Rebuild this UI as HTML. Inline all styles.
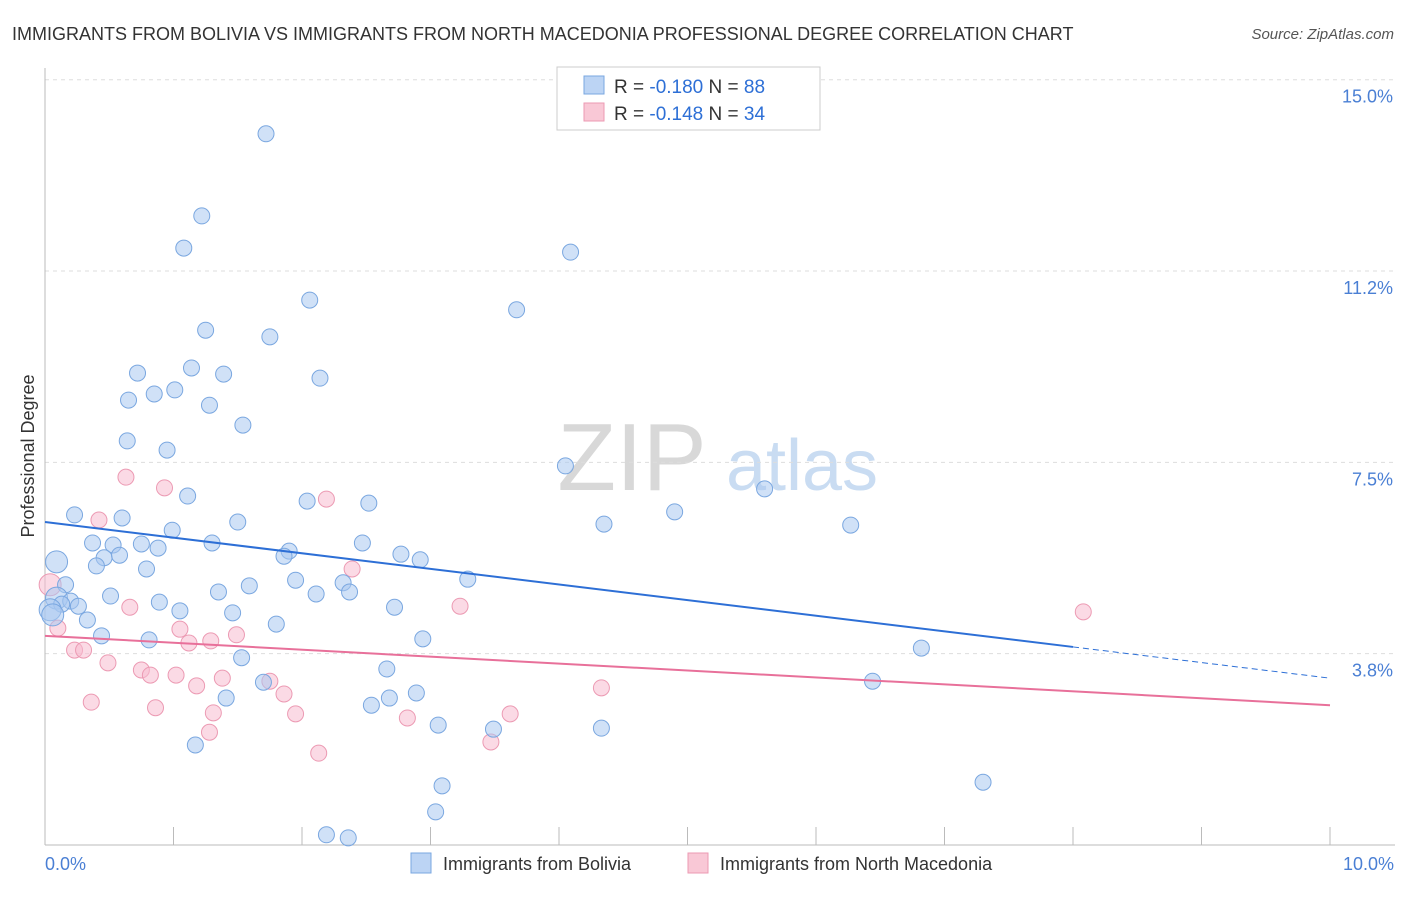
<!DOCTYPE html>
<html><head><meta charset="utf-8"><style>
body{margin:0;background:#fff;font-family:"Liberation Sans",sans-serif;}
svg text{font-family:"Liberation Sans",sans-serif;}
</style></head><body>
<svg id="chart" width="1406" height="892" viewBox="0 0 1406 892" xmlns="http://www.w3.org/2000/svg">
<text x="12" y="40" font-size="18" fill="#333">IMMIGRANTS FROM BOLIVIA VS IMMIGRANTS FROM NORTH MACEDONIA PROFESSIONAL DEGREE CORRELATION CHART</text>
<text x="1394" y="39" font-size="15" fill="#555" text-anchor="end" font-style="italic">Source: ZipAtlas.com</text>
<g>
<text x="632" y="490" font-size="96" fill="#d8d8d8" font-family="Liberation Serif" text-anchor="middle">ZIP</text>
<text x="802" y="490" font-size="72" fill="#c9dcf2" text-anchor="middle">atlas</text>
</g>
<g id="grid"></g><g id="axes"></g><g id="pinkPts"></g><g id="bluePts"></g><g id="trends"></g>
<text transform="translate(34,456) rotate(-90)" font-size="18" fill="#333" text-anchor="middle">Professional Degree</text>
<text x="45" y="870" font-size="18" fill="#4a7fd4">0.0%</text>
<text x="1394" y="870" font-size="18" fill="#4a7fd4" text-anchor="end">10.0%</text>
<g>
<rect x="557" y="67" width="263" height="63" fill="#fff" stroke="#ccc"/>
<rect x="584" y="76" width="20" height="18" fill="#bcd4f4" stroke="#7aa7e0"/>
<rect x="584" y="103" width="20" height="18" fill="#f9c8d6" stroke="#ec9ab3"/>
<text x="614" y="93" font-size="19" fill="#333">R = <tspan fill="#2d6fd6">-0.180</tspan>   N = <tspan fill="#2d6fd6">88</tspan></text>
<text x="614" y="120" font-size="19" fill="#333">R = <tspan fill="#2d6fd6">-0.148</tspan>   N = <tspan fill="#2d6fd6">34</tspan></text>
</g>
<g>
<rect x="411" y="853" width="20" height="20" fill="#bcd4f4" stroke="#7aa7e0"/>
<text x="443" y="870" font-size="18" fill="#333">Immigrants from Bolivia</text>
<rect x="688" y="853" width="20" height="20" fill="#f9c8d6" stroke="#ec9ab3"/>
<text x="720" y="870" font-size="18" fill="#333">Immigrants from North Macedonia</text>
</g>
</svg>
<script>
const yTicks=[15,11.25,7.5,3.75];
const yTickLabels=["15.0%","11.2%","7.5%","3.8%"];
const xTicks=[0,1,2,3,4,5,6,7,8,9,10];
const blueX=[1.72,1.22,1.08,4.09,2.06,3.67,1.25,1.75,0.72,1.14,1.39,2.14,1.01,0.85,0.65,1.28,1.54,0.64,0.95,4.05,5.60,1.11,2.04,2.52,4.90,0.23,0.60,1.50,4.35,6.27,0.99,0.37,0.53,0.75,1.30,2.47,0.88,0.46,0.58,0.09,1.90,1.86,2.77,2.92,0.40,0.79,3.29,1.95,2.32,0.16,1.59,1.35,2.11,2.37,0.51,0.09,0.20,0.13,0.26,0.89,2.72,1.05,1.46,0.04,0.06,0.33,1.80,0.44,0.81,2.94,6.82,1.53,2.66,6.44,1.70,1.41,2.68,2.89,2.54,3.06,3.49,4.33,1.17,3.09,7.30,3.04,2.19,2.36];
const blueY=[13.94,12.33,11.70,11.62,10.68,10.49,10.09,9.96,9.25,9.35,9.23,9.15,8.92,8.84,8.72,8.62,8.23,7.92,7.74,7.43,6.98,6.84,6.74,6.70,6.53,6.47,6.41,6.33,6.29,6.27,6.17,5.92,5.88,5.90,5.92,5.92,5.82,5.63,5.68,5.55,5.76,5.66,5.70,5.59,5.47,5.41,5.21,5.19,5.14,5.10,5.08,4.96,4.92,4.96,4.88,4.84,4.78,4.72,4.68,4.76,4.66,4.59,4.55,4.61,4.51,4.41,4.33,4.10,4.02,4.04,3.86,3.67,3.45,3.21,3.19,2.88,2.88,2.98,2.74,2.35,2.27,2.29,1.96,1.16,1.23,0.65,0.20,0.14];
const pinkX=[0.04,0.63,0.93,0.42,2.19,2.39,0.66,3.23,8.08,0.10,1.05,1.29,1.12,1.49,0.23,0.30,0.49,0.75,0.82,1.02,1.18,1.38,1.75,1.86,4.33,0.36,0.86,1.31,1.95,2.82,3.62,1.28,3.47,2.13];
const pinkY=[5.10,7.21,7.00,6.37,6.78,5.41,4.66,4.68,4.57,4.25,4.23,4.00,3.96,4.12,3.82,3.82,3.57,3.43,3.33,3.33,3.12,3.27,3.21,2.96,3.08,2.80,2.69,2.59,2.57,2.49,2.57,2.21,2.02,1.80];
const blueTrend=[6.33,3.27];
const pinkTrend=[4.10,2.74];
const NS="http://www.w3.org/2000/svg";
const sx=v=>45+v*128.5;
const sy=v=>845-v*51.02;
function mk(tag,attrs,parent){const e=document.createElementNS(NS,tag);for(const k in attrs)e.setAttribute(k,attrs[k]);parent.appendChild(e);return e;}
const grid=document.getElementById('grid');
yTicks.forEach((t,i)=>{
 const l=mk('line',{x1:45,x2:1395,y1:sy(t),y2:sy(t),stroke:'#ddd','stroke-dasharray':'4,4'},grid);
 
 
 const tx=mk('text',{x:1393,y:sy(t)+23,'font-size':18,fill:'#4a7fd4','text-anchor':'end'},grid);
 tx.textContent=yTickLabels[i];
 
 
});
const axes=document.getElementById('axes');
const ya=mk('line',{x1:45,x2:45,y1:68,y2:845,stroke:'#bbb'},axes);


const xa=mk('line',{x1:45,x2:1395,y1:845,y2:845,stroke:'#bbb'},axes);


xTicks.forEach(t=>{
 const l=mk('line',{x1:sx(t),x2:sx(t),y1:827,y2:845,stroke:'#bbb'},axes);
 
 
});
function pts(xs,ys,g,fill,stroke,name){
 xs.forEach((x,i)=>{
  const big=i<1&&name==='pink-point'||(x<0.1&&name==='blue-point');
  const c=mk('circle',{cx:sx(x),cy:sy(ys[i]),r:big?11:8,fill:fill,'fill-opacity':0.55,stroke:stroke,'stroke-width':1},g);
  
  
 });
}
pts(pinkX,pinkY,document.getElementById('pinkPts'),'#f7bcd0','#ec9ab3','pink-point');
pts(blueX,blueY,document.getElementById('bluePts'),'#a9c8f0','#7aa7e0','blue-point');
const tr=document.getElementById('trends');
const bAt=x=>blueTrend[0]+(blueTrend[1]-blueTrend[0])*x/10;
const b1=mk('line',{x1:sx(0),y1:sy(bAt(0)),x2:sx(8),y2:sy(bAt(8)),stroke:'#2d6fd6','stroke-width':2},tr);


const b2=mk('line',{x1:sx(8),y1:sy(bAt(8)),x2:sx(10),y2:sy(bAt(10)),stroke:'#2d6fd6','stroke-width':1,'stroke-dasharray':'6,4'},tr);


const p1=mk('line',{x1:sx(0),y1:sy(pinkTrend[0]),x2:sx(10),y2:sy(pinkTrend[1]),stroke:'#e8709a','stroke-width':2},tr);


</script>
</body></html>
